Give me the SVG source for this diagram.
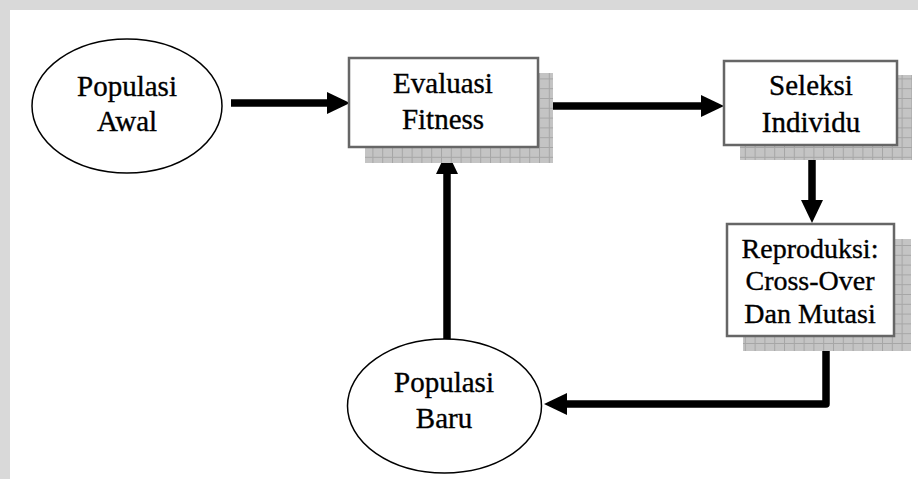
<svg xmlns="http://www.w3.org/2000/svg" width="918" height="479" viewBox="0 0 918 479">
<style>
.t{font-family:'Liberation Serif','DejaVu Serif',serif;font-size:29px;fill:#000;stroke:#000;stroke-width:0.35;text-anchor:middle}
.s{font-size:28px}
.ell{fill:#fff;stroke:#000;stroke-width:1.5}
.box{fill:#fff;stroke:#666;stroke-width:2.5}
.shd{fill:url(#grid)}
.con{fill:none;stroke:#000;stroke-width:7.5;stroke-linejoin:round}
</style>
<defs>
<pattern id="grid" patternUnits="userSpaceOnUse" width="9.8" height="9.8">
<rect width="9.8" height="9.8" fill="#c4c4c4"/>
<path d="M0,0.5H9.8M0.5,0V9.8" stroke="#a6a6a6" stroke-width="1"/>
</pattern>
<marker id="ah" markerUnits="userSpaceOnUse" viewBox="0 0 23 22" refX="1" refY="11" markerWidth="23" markerHeight="22" orient="auto">
<path d="M0,0L23,11L0,22z" fill="#000"/>
</marker>
</defs>
<rect width="918" height="479" fill="#d9d9d9"/>
<rect x="10" y="10" width="908" height="469" fill="#fff"/>
<g id="connectors">
<path class="con" d="M231,103H328" marker-end="url(#ah)"/>
<path class="con" d="M538,106H702" marker-end="url(#ah)"/>
<path class="con" d="M812,145V201" marker-end="url(#ah)"/>
<path class="con" d="M826,340V404H566" marker-end="url(#ah)"/>
<path class="con" d="M447,339V173" marker-end="url(#ah)"/>
</g>
<g id="populasi-awal">
<ellipse class="ell" cx="127" cy="106" rx="95" ry="67"/>
<text class="t" x="127" y="96">Populasi</text>
<text class="t" x="127" y="131">Awal</text>
</g>
<g id="evaluasi-fitness">
<rect class="shd" x="365" y="73" width="188" height="90"/>
<rect class="box" x="349" y="58" width="189" height="89"/>
<text class="t" x="443" y="93">Evaluasi</text>
<text class="t" x="443" y="129">Fitness</text>
</g>
<g id="seleksi-individu">
<rect class="shd" x="740" y="75" width="172" height="85"/>
<rect class="box" x="724" y="61" width="173" height="84"/>
<text class="t" x="811" y="95">Seleksi</text>
<text class="t" x="811" y="132">Individu</text>
</g>
<g id="reproduksi">
<rect class="shd" x="743" y="239" width="168" height="112"/>
<rect class="box" x="727" y="224" width="167" height="112"/>
<text class="t s" x="810" y="258">Reproduksi:</text>
<text class="t s" x="810" y="290">Cross-Over</text>
<text class="t s" x="810" y="323">Dan Mutasi</text>
</g>
<g id="populasi-baru">
<ellipse class="ell" cx="444.5" cy="406" rx="97" ry="67"/>
<text class="t" x="444" y="392">Populasi</text>
<text class="t" x="444" y="428">Baru</text>
</g>
</svg>
